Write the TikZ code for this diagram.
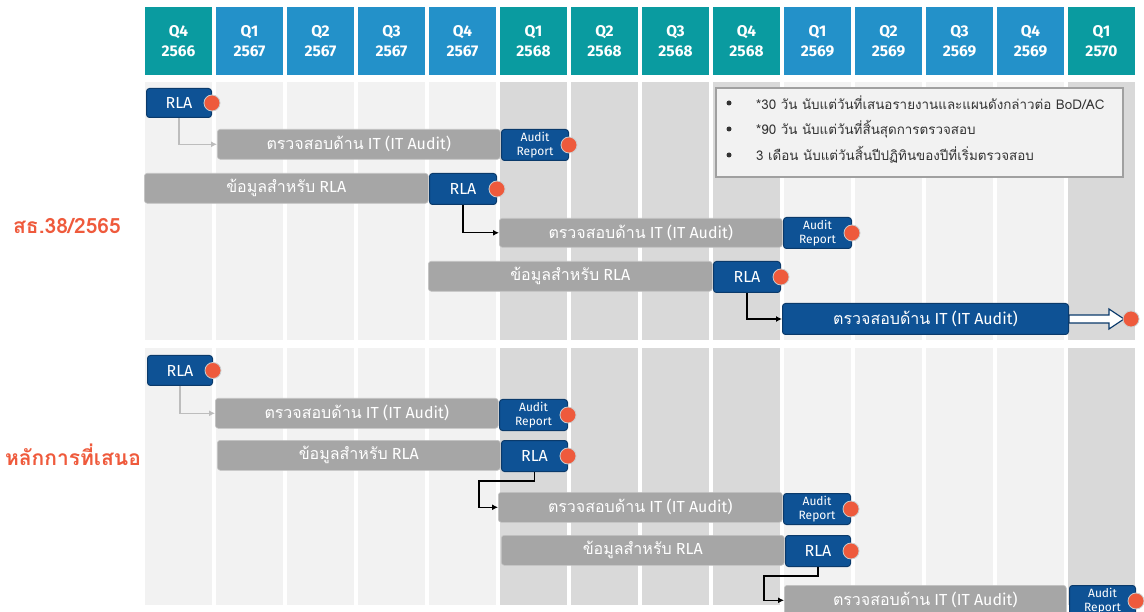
\documentclass[tikz,border=0pt]{standalone}
\usepackage{fontspec}
\setmainfont{Fira Sans}
\newfontfamily\thai[Script=Thai]{Loma}
\newfontfamily\latin{Fira Sans}
\usetikzlibrary{arrows.meta}
\definecolor{hdrteal}{HTML}{0A9BA0}
\definecolor{hdrblue}{HTML}{2391C9}
\definecolor{rlablue}{HTML}{0E5295}
\definecolor{rlaborder}{HTML}{0A3A6B}
\definecolor{bargray}{HTML}{A6A6A6}
\definecolor{barborder}{HTML}{C4C4C4}
\definecolor{dotc}{HTML}{EE5A3C}
\definecolor{bglight}{HTML}{F2F2F2}
\definecolor{bgdark}{HTML}{D9D9D9}
\definecolor{arrowgray}{HTML}{BDBDBD}
\definecolor{titlered}{HTML}{EF5A3C}
\definecolor{legfill}{HTML}{F2F2F2}
\definecolor{legborder}{HTML}{A0A0A0}
\definecolor{legtext}{HTML}{333333}
\newcommand\bx[7]{\node[#1, minimum width={#5-#3}, minimum height={#6-#4}] (#2) at (#3,#4) {#7};}
\begin{document}
\begin{tikzpicture}[x=1pt,y=-1pt,
 hdr/.style={minimum width=67pt, minimum height=68pt, inner sep=0, text=white, font=\latin\bfseries\fontsize{15.5}{19.5}\selectfont, align=center},
 box/.style={anchor=north west, inner sep=0, rounded corners=3pt},
 rla/.style={box, fill=rlablue, draw=rlaborder, line width=1pt, text=white, font=\latin\fontsize{16}{18}\selectfont},
 rep/.style={rla, font=\latin\fontsize{12}{14.5}\selectfont, align=center},
 bar/.style={box, fill=bargray, draw=barborder, line width=0.6pt, text=white, font=\latin\fontsize{16}{18}\selectfont},
 dot/.style={circle, fill=dotc, draw=white!80!black, line width=0.8pt, minimum size=16pt, inner sep=0},
 garrow/.style={draw=arrowgray, line width=1.2pt, -{Latex[length=6pt,width=6pt]}},
 karrow/.style={draw=black, line width=1.3pt, -{Latex[length=6pt,width=6pt]}},
 legtxt/.style={anchor=west, inner sep=0, text=legtext, font=\thai\fontsize{13.4}{15}\selectfont},
 bul/.style={circle, inner sep=0, minimum size=5pt, fill=legtext},
 title/.style={text=titlered, font=\thai\bfseries\fontsize{21}{24}\selectfont}]
\clip (0,0) rectangle (1144,612);
\fill[white] (0,0) rectangle (1144,612);
% columns and header
\foreach \i/\q/\yr/\hc/\bc in {0/Q4/2566/hdrteal/bglight, 1/Q1/2567/hdrblue/bglight, 2/Q2/2567/hdrblue/bglight, 3/Q3/2567/hdrblue/bglight, 4/Q4/2567/hdrblue/bglight, 5/Q1/2568/hdrteal/bgdark, 6/Q2/2568/hdrteal/bgdark, 7/Q3/2568/hdrteal/bgdark, 8/Q4/2568/hdrteal/bgdark, 9/Q1/2569/hdrblue/bglight, 10/Q2/2569/hdrblue/bglight, 11/Q3/2569/hdrblue/bglight, 12/Q4/2569/hdrblue/bglight, 13/Q1/2570/hdrteal/bgdark}{
 \node[hdr, fill=\hc] (h\i) at (178.5+71*\i, 41) {\q\\\yr};
 \fill[\bc] (145+71*\i, 82) rectangle ++(67, 258);
 \fill[\bc] (145+71*\i, 348) rectangle ++(67, 257);
}
% titles
\node[title] (t1) at (67,226) {สธ.38/2565};
\node[title] (t2) at (73,455) {หลักการที่เสนอ};
% legend
\node[box, rounded corners=0, fill=legfill, draw=legborder, line width=2pt, minimum width=407, minimum height=89] (leg) at (715,87) {};
\node[bul] (u1) at (729,103) {};
\node[bul] (u2) at (729,129) {};
\node[bul] (u3) at (729,155) {};
\node[legtxt] (l1) at (756,103) {*30 วัน นับแต่วันที่เสนอรายงานและแผนดังกล่าวต่อ BoD/AC};
\node[legtxt] (l2) at (756,129) {*90 วัน นับแต่วันที่สิ้นสุดการตรวจสอบ};
\node[legtxt] (l3) at (756,155) {3 เดือน นับแต่วันสิ้นปีปฏิทินของปีที่เริ่มตรวจสอบ};
% ---- top section
\bx{rla}{r1}{146}{88}{211}{117}{RLA}
\bx{bar}{a1}{217}{129}{500}{159}{{\thai ตรวจสอบด้าน} IT (IT Audit)}
\bx{rep}{p1}{501}{129}{568}{160}{Audit\\Report}
\bx{bar}{i1}{144}{173}{428}{203}{{\thai ข้อมูลสำหรับ} RLA}
\bx{rla}{r2}{429}{173}{496}{204}{RLA}
\bx{bar}{a2}{499}{218}{782}{247}{{\thai ตรวจสอบด้าน} IT (IT Audit)}
\bx{rep}{p2}{783}{217}{851}{248}{Audit\\Report}
\bx{bar}{i2}{428}{261}{712}{291}{{\thai ข้อมูลสำหรับ} RLA}
\bx{rla}{r3}{713}{261}{780}{292}{RLA}
\bx{rla}{a3}{782}{303}{1068}{334}{{\thai ตรวจสอบด้าน} IT (IT Audit)}
\draw[fill=white, draw=rlaborder, line width=1.2pt] (1069,315) -- (1109,315) -- (1109,309) -- (1124,319) -- (1109,329) -- (1109,323) -- (1069,323) -- cycle;
\draw[garrow] (r1.south) |- (a1.west);
\draw[karrow] (r2.south) |- (a2.west);
\draw[karrow] (r3.south) |- (a3.west);
\node[dot] (d1) at (r1.east) {};
\node[dot] (d2) at (p1.east) {};
\node[dot] (d3) at (r2.east) {};
\node[dot] (d4) at (p2.east) {};
\node[dot] (d5) at (r3.east) {};
\node[dot] (d6) at (1131,319) {};
% ---- bottom section
\bx{rla}{r4}{147}{355}{212}{385}{RLA}
\bx{bar}{a4}{215}{398}{498}{428}{{\thai ตรวจสอบด้าน} IT (IT Audit)}
\bx{rep}{p4}{499}{399}{567}{430}{Audit\\Report}
\bx{bar}{i4}{217}{440}{500}{470}{{\thai ข้อมูลสำหรับ} RLA}
\bx{rla}{r5}{501}{440}{567}{471}{RLA}
\bx{bar}{a5}{498}{492}{782}{522}{{\thai ตรวจสอบด้าน} IT (IT Audit)}
\bx{rep}{p5}{783}{493}{850}{524}{Audit\\Report}
\bx{bar}{i5}{501}{535}{784}{565}{{\thai ข้อมูลสำหรับ} RLA}
\bx{rla}{r6}{785}{535}{850}{566}{RLA}
\bx{bar}{a6}{784}{585}{1066}{615}{{\thai ตรวจสอบด้าน} IT (IT Audit)}
\bx{rep}{p6}{1069}{585}{1135}{616}{Audit\\Report}
\draw[garrow] (r4.south) |- (a4.west);
\draw[karrow] (r5.south) -- ++(0,9) -| ([xshift=-19pt]a5.west) -- (a5.west);
\draw[karrow] (r6.south) -- ++(0,9) -| ([xshift=-20pt]a6.west) -- (a6.west);
\node[dot] (d7) at (r4.east) {};
\node[dot] (d8) at (p4.east) {};
\node[dot] (d9) at (r5.east) {};
\node[dot] (d10) at (p5.east) {};
\node[dot] (d11) at (r6.east) {};
\node[dot] (d12) at (p6.east) {};
\end{tikzpicture}
\end{document}
